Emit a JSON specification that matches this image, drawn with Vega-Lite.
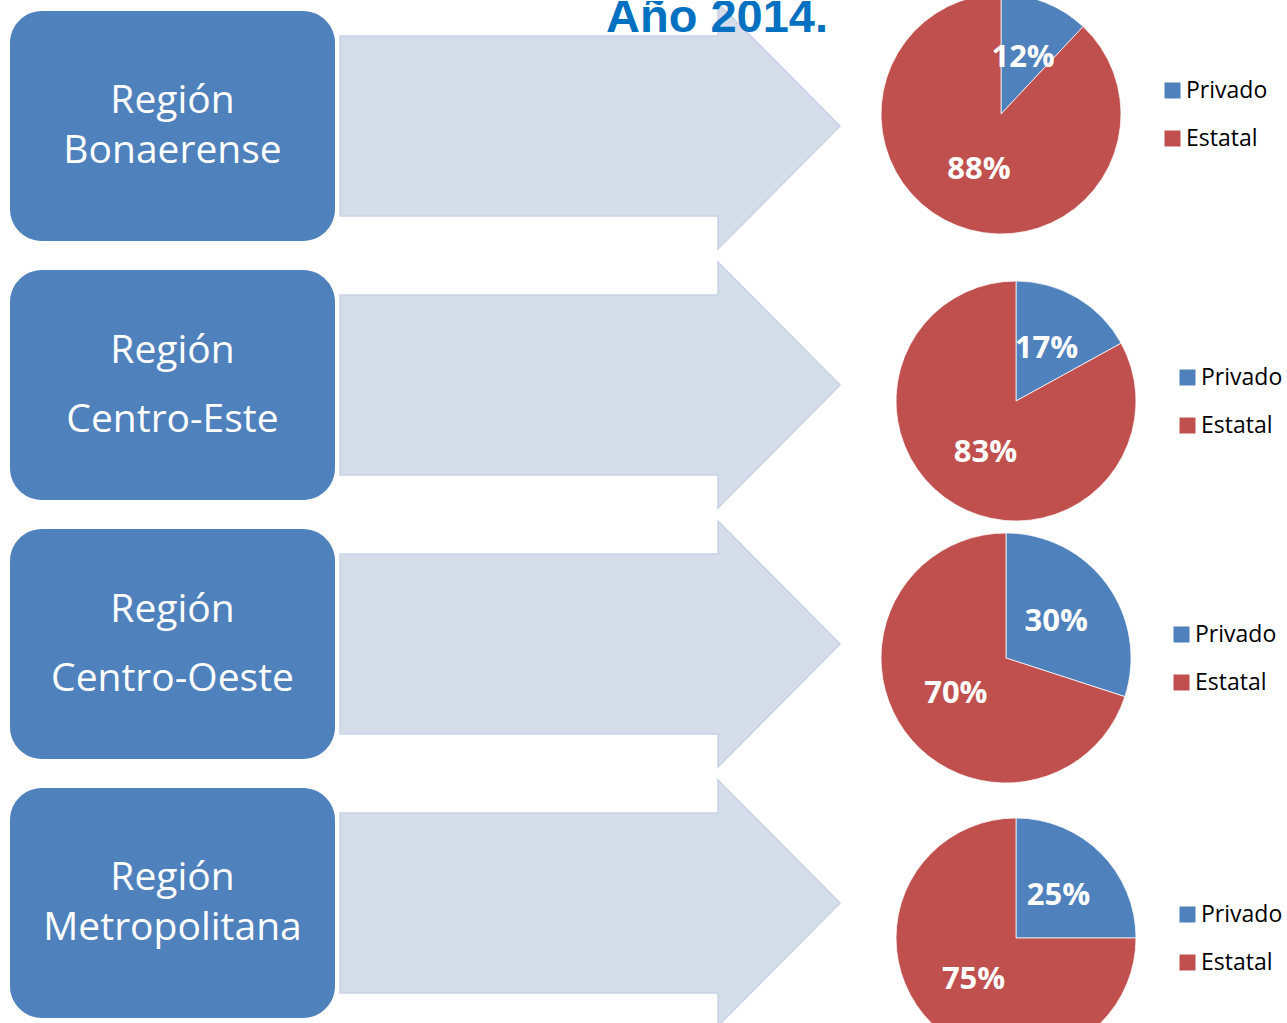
{
  "$schema": "https://vega.github.io/schema/vega-lite/v6.json",
  "background": "white",
  "padding": {"left": 10, "top": -8, "right": 0, "bottom": -35},
  "config": {
    "view": {"stroke": null},
    "font": "Open Sans",
    "legend": {
      "title": null,
      "orient": "none",
      "symbolType": "square",
      "symbolSize": 256,
      "symbolStrokeWidth": 0,
      "labelFontSize": 23,
      "labelFont": "Open Sans",
      "labelColor": "#000000",
      "labelOffset": 2,
      "rowPadding": 24,
      "padding": 0
    }
  },
  "datasets": {
    "regiones": [
      {"region": "Bonaerense", "etiqueta": "Región\nBonaerense"},
      {"region": "Centro-Este", "etiqueta": "Región\nCentro-Este"},
      {"region": "Centro-Oeste", "etiqueta": "Región\nCentro-Oeste"},
      {"region": "Metropolitana", "etiqueta": "Región\nMetropolitana"}
    ],
    "sectores": [
      {"region": "Bonaerense", "sector": "Privado", "pct": 0.12},
      {"region": "Bonaerense", "sector": "Estatal", "pct": 0.88},
      {"region": "Centro-Este", "sector": "Privado", "pct": 0.17},
      {"region": "Centro-Este", "sector": "Estatal", "pct": 0.83},
      {"region": "Centro-Oeste", "sector": "Privado", "pct": 0.30},
      {"region": "Centro-Oeste", "sector": "Estatal", "pct": 0.70},
      {"region": "Metropolitana", "sector": "Privado", "pct": 0.25},
      {"region": "Metropolitana", "sector": "Estatal", "pct": 0.75}
    ],
    "titulo": [{"texto": "Año 2014."}]
  },
  "spacing": 1,
  "resolve": {"scale": {"color": "independent"}, "legend": {"color": "independent"}},
  "hconcat": [
    {
      "spacing": 7,
      "vconcat": [
        {
          "spacing": 5, "bounds": "flush",
          "hconcat": [
            {
              "width": 325, "height": 250,
              "data": {"name": "regiones"},
              "transform": [{"filter": "datum.region == 'Bonaerense'"}],
              "layer": [
                {"mark": {"type": "point", "shape": "M -0.803,-0.7077 L 0.803,-0.7077 C 0.9118,-0.7077 1,-0.6195 1,-0.5107 L 1,0.5107 C 1,0.6195 0.9118,0.7077 0.803,0.7077 L -0.803,0.7077 C -0.9118,0.7077 -1,0.6195 -1,0.5107 L -1,-0.5107 C -1,-0.6195 -0.9118,-0.7077 -0.803,-0.7077 Z", "size": 105625, "filled": true, "color": "#4f81bd", "fill": "#4f81bd", "opacity": 1, "strokeWidth": 0}, "encoding": {}},
                {"mark": {"type": "text", "lineBreak": "\n", "lineHeight": 50, "dy": -25, "font": "Open Sans", "fontSize": 39, "fill": "#ffffff", "align": "center", "baseline": "middle"}, "encoding": {"text": {"field": "etiqueta"}}}
              ]
            },
            {
              "width": 500, "height": 250,
              "layer": [
                {"data": {"name": "regiones"}, "transform": [{"filter": "datum.region == 'Bonaerense'"}],
                 "mark": {"type": "point", "shape": "M -1,-0.36 L 0.512,-0.36 L 0.512,-0.492 L 1,0 L 0.512,0.492 L 0.512,0.36 L -1,0.36 Z", "size": 250000, "filled": true, "color": "#d5dcea", "fill": "#d5dcea", "stroke": "#c9d2e6", "strokeWidth": 1.5, "opacity": 1}, "encoding": {}},
                {"data": {"name": "titulo"},
                 "mark": {"type": "text", "font": "Liberation Sans", "fontWeight": "bold", "fontSize": 47, "fill": "#0070c0", "align": "center", "baseline": "alphabetic", "dx": 127, "dy": -94, "clip": true}, "encoding": {"text": {"field": "texto"}}}
              ]
            }
          ]
        },
        {
          "spacing": 5, "bounds": "flush",
          "hconcat": [
            {
              "width": 325, "height": 250,
              "data": {"name": "regiones"},
              "transform": [{"filter": "datum.region == 'Centro-Este'"}],
              "layer": [
                {"mark": {"type": "point", "shape": "M -0.803,-0.7077 L 0.803,-0.7077 C 0.9118,-0.7077 1,-0.6195 1,-0.5107 L 1,0.5107 C 1,0.6195 0.9118,0.7077 0.803,0.7077 L -0.803,0.7077 C -0.9118,0.7077 -1,0.6195 -1,0.5107 L -1,-0.5107 C -1,-0.6195 -0.9118,-0.7077 -0.803,-0.7077 Z", "size": 105625, "filled": true, "color": "#4f81bd", "fill": "#4f81bd", "opacity": 1, "strokeWidth": 0}, "encoding": {}},
                {"mark": {"type": "text", "lineBreak": "\n", "lineHeight": 69, "dy": -34.5, "font": "Open Sans", "fontSize": 39, "fill": "#ffffff", "align": "center", "baseline": "middle"}, "encoding": {"text": {"field": "etiqueta"}}}
              ]
            },
            {
              "width": 500, "height": 250,
              "data": {"name": "regiones"},
              "transform": [{"filter": "datum.region == 'Centro-Este'"}],
              "mark": {"type": "point", "shape": "M -1,-0.36 L 0.512,-0.36 L 0.512,-0.492 L 1,0 L 0.512,0.492 L 0.512,0.36 L -1,0.36 Z", "size": 250000, "filled": true, "color": "#d5dcea", "fill": "#d5dcea", "stroke": "#c9d2e6", "strokeWidth": 1.5, "opacity": 1},
              "encoding": {}
            }
          ]
        },
        {
          "spacing": 5, "bounds": "flush",
          "hconcat": [
            {
              "width": 325, "height": 250,
              "data": {"name": "regiones"},
              "transform": [{"filter": "datum.region == 'Centro-Oeste'"}],
              "layer": [
                {"mark": {"type": "point", "shape": "M -0.803,-0.7077 L 0.803,-0.7077 C 0.9118,-0.7077 1,-0.6195 1,-0.5107 L 1,0.5107 C 1,0.6195 0.9118,0.7077 0.803,0.7077 L -0.803,0.7077 C -0.9118,0.7077 -1,0.6195 -1,0.5107 L -1,-0.5107 C -1,-0.6195 -0.9118,-0.7077 -0.803,-0.7077 Z", "size": 105625, "filled": true, "color": "#4f81bd", "fill": "#4f81bd", "opacity": 1, "strokeWidth": 0}, "encoding": {}},
                {"mark": {"type": "text", "lineBreak": "\n", "lineHeight": 69, "dy": -34.5, "font": "Open Sans", "fontSize": 39, "fill": "#ffffff", "align": "center", "baseline": "middle"}, "encoding": {"text": {"field": "etiqueta"}}}
              ]
            },
            {
              "width": 500, "height": 250,
              "data": {"name": "regiones"},
              "transform": [{"filter": "datum.region == 'Centro-Oeste'"}],
              "mark": {"type": "point", "shape": "M -1,-0.36 L 0.512,-0.36 L 0.512,-0.492 L 1,0 L 0.512,0.492 L 0.512,0.36 L -1,0.36 Z", "size": 250000, "filled": true, "color": "#d5dcea", "fill": "#d5dcea", "stroke": "#c9d2e6", "strokeWidth": 1.5, "opacity": 1},
              "encoding": {}
            }
          ]
        },
        {
          "spacing": 5, "bounds": "flush",
          "hconcat": [
            {
              "width": 325, "height": 250,
              "data": {"name": "regiones"},
              "transform": [{"filter": "datum.region == 'Metropolitana'"}],
              "layer": [
                {"mark": {"type": "point", "shape": "M -0.803,-0.7077 L 0.803,-0.7077 C 0.9118,-0.7077 1,-0.6195 1,-0.5107 L 1,0.5107 C 1,0.6195 0.9118,0.7077 0.803,0.7077 L -0.803,0.7077 C -0.9118,0.7077 -1,0.6195 -1,0.5107 L -1,-0.5107 C -1,-0.6195 -0.9118,-0.7077 -0.803,-0.7077 Z", "size": 105625, "filled": true, "color": "#4f81bd", "fill": "#4f81bd", "opacity": 1, "strokeWidth": 0}, "encoding": {}},
                {"mark": {"type": "text", "lineBreak": "\n", "lineHeight": 50, "dy": -25, "font": "Open Sans", "fontSize": 39, "fill": "#ffffff", "align": "center", "baseline": "middle"}, "encoding": {"text": {"field": "etiqueta"}}}
              ]
            },
            {
              "width": 500, "height": 250,
              "data": {"name": "regiones"},
              "transform": [{"filter": "datum.region == 'Metropolitana'"}],
              "mark": {"type": "point", "shape": "M -1,-0.36 L 0.512,-0.36 L 0.512,-0.492 L 1,0 L 0.512,0.492 L 0.512,0.36 L -1,0.36 Z", "size": 250000, "filled": true, "color": "#d5dcea", "fill": "#d5dcea", "stroke": "#c9d2e6", "strokeWidth": 1.5, "opacity": 1},
              "encoding": {}
            }
          ]
        }
      ]
    },
    {
      "spacing": 150,
      "bounds": "flush",
      "resolve": {"scale": {"color": "independent"}, "legend": {"color": "independent"}},
      "vconcat": [
        {
          "width": 314, "height": 226,
          "data": {"name": "sectores"},
          "transform": [{"filter": "datum.region == 'Bonaerense'"}],
          "encoding": {
            "theta": {"field": "pct", "type": "quantitative", "stack": true},
            "order": {"field": "sector", "sort": "descending"}
          },
          "layer": [
            {"mark": {"type": "arc", "outerRadius": 120, "stroke": "#ffffff", "strokeWidth": 0.75},
             "encoding": {"color": {"field": "sector", "type": "nominal", "scale": {"domain": ["Privado", "Estatal"], "range": ["#4f81bd", "#c0504d"]}, "legend": {"legendX": 317, "legendY": 78}}}},
            {"mark": {"type": "text", "radius": 60, "font": "Open Sans", "fontWeight": "bold", "fontSize": 31, "fill": "#ffffff"},
             "encoding": {"detail": {"field": "sector"}, "text": {"field": "pct", "type": "quantitative", "format": ".0%"}}}
          ]
        },
        {
          "width": 344, "height": 48,
          "data": {"name": "sectores"},
          "transform": [{"filter": "datum.region == 'Centro-Este'"}],
          "encoding": {
            "theta": {"field": "pct", "type": "quantitative", "stack": true},
            "order": {"field": "sector", "sort": "descending"}
          },
          "layer": [
            {"mark": {"type": "arc", "outerRadius": 120, "stroke": "#ffffff", "strokeWidth": 0.75},
             "encoding": {"color": {"field": "sector", "type": "nominal", "scale": {"domain": ["Privado", "Estatal"], "range": ["#4f81bd", "#c0504d"]}, "legend": {"legendX": 332, "legendY": -11}}}},
            {"mark": {"type": "text", "radius": 60, "font": "Open Sans", "fontWeight": "bold", "fontSize": 31, "fill": "#ffffff"},
             "encoding": {"detail": {"field": "sector"}, "text": {"field": "pct", "type": "quantitative", "format": ".0%"}}}
          ]
        },
        {
          "width": 324, "height": 166,
          "data": {"name": "sectores"},
          "transform": [{"filter": "datum.region == 'Centro-Oeste'"}],
          "encoding": {
            "theta": {"field": "pct", "type": "quantitative", "stack": true},
            "order": {"field": "sector", "sort": "descending"}
          },
          "layer": [
            {"mark": {"type": "arc", "outerRadius": 125, "stroke": "#ffffff", "strokeWidth": 0.75},
             "encoding": {"color": {"field": "sector", "type": "nominal", "scale": {"domain": ["Privado", "Estatal"], "range": ["#4f81bd", "#c0504d"]}, "legend": {"legendX": 326, "legendY": 48}}}},
            {"mark": {"type": "text", "radius": 62, "font": "Open Sans", "fontWeight": "bold", "fontSize": 31, "fill": "#ffffff"},
             "encoding": {"detail": {"field": "sector"}, "text": {"field": "pct", "type": "quantitative", "format": ".0%"}}}
          ]
        },
        {
          "width": 344, "height": 94,
          "data": {"name": "sectores"},
          "transform": [{"filter": "datum.region == 'Metropolitana'"}],
          "encoding": {
            "theta": {"field": "pct", "type": "quantitative", "stack": true},
            "order": {"field": "sector", "sort": "descending"}
          },
          "layer": [
            {"mark": {"type": "arc", "outerRadius": 120, "stroke": "#ffffff", "strokeWidth": 0.75},
             "encoding": {"color": {"field": "sector", "type": "nominal", "scale": {"domain": ["Privado", "Estatal"], "range": ["#4f81bd", "#c0504d"]}, "legend": {"legendX": 332, "legendY": 12}}}},
            {"mark": {"type": "text", "radius": 60, "font": "Open Sans", "fontWeight": "bold", "fontSize": 31, "fill": "#ffffff"},
             "encoding": {"detail": {"field": "sector"}, "text": {"field": "pct", "type": "quantitative", "format": ".0%"}}}
          ]
        }
      ]
    }
  ]
}
